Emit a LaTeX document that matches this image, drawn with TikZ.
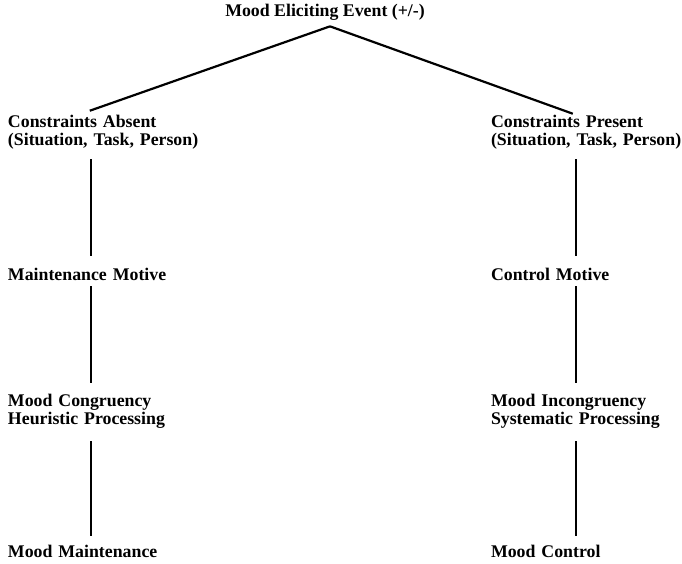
\documentclass[tikz,border=0pt]{standalone}
\usepackage{fontspec}
\setmainfont{Liberation Serif}
\usetikzlibrary{positioning}
\tikzstyle{topic} = [rectangle, inner sep=0pt, align=center, font=\bfseries\fontsize{17.8}{18}\selectfont]
\tikzstyle{stage} = [rectangle, inner sep=0pt, text width=200pt, align=left, font=\bfseries\fontsize{17.8}{18}\selectfont]
\tikzstyle{link} = [line width=2.2pt]

\begin{document}
\begin{tikzpicture}[node distance=140pt]
        \useasboundingbox (0,0) rectangle (682pt,-564pt);
        \node (event) [topic] at (325pt,-12pt) {Mood Eliciting Event (+/-)};
        \node (absent) [stage, below of=event, yshift=20pt, xshift=-217pt] {Constraints Absent\\(Situation, Task, Person)};
        \node (present) [stage, right of=absent, xshift=343pt] {Constraints Present\\(Situation, Task, Person)};
        \node (maintMotive) [stage, below of=absent, yshift=-2pt] {Maintenance Motive};
        \node (ctrlMotive) [stage, below of=present, yshift=-2pt] {Control Motive};
        \node (congruency) [stage, below of=maintMotive, yshift=3pt] {Mood Congruency\\Heuristic Processing};
        \node (incongruency) [stage, below of=ctrlMotive, yshift=3pt] {Mood Incongruency\\Systematic Processing};
        \node (maintenance) [stage, below of=congruency, yshift=0pt] {Mood Maintenance};
        \node (control) [stage, below of=incongruency, yshift=0pt] {Mood Control};

        \draw [link] ([xshift=5pt, yshift=-6pt]event.south) -- ([xshift=82pt, yshift=4pt]absent.north west);
        \draw [link] ([xshift=5pt, yshift=-6pt]event.south) -- ([xshift=82pt, yshift=1pt]present.north west);
        \draw [link] ([xshift=83pt, yshift=-10pt]absent.south west) -- ([xshift=83pt, yshift=12pt]maintMotive.north west);
        \draw [link] ([xshift=85pt, yshift=-10pt]present.south west) -- ([xshift=85pt, yshift=12pt]ctrlMotive.north west);
        \draw [link] ([xshift=83pt, yshift=-6pt]maintMotive.south west) -- ([xshift=83pt, yshift=11pt]congruency.north west);
        \draw [link] ([xshift=85pt, yshift=-6pt]ctrlMotive.south west) -- ([xshift=85pt, yshift=11pt]incongruency.north west);
        \draw [link] ([xshift=83pt, yshift=-13pt]congruency.south west) -- ([xshift=83pt, yshift=9pt]maintenance.north west);
        \draw [link] ([xshift=85pt, yshift=-13pt]incongruency.south west) -- ([xshift=85pt, yshift=9pt]control.north west);
    \end{tikzpicture}
\end{document}
